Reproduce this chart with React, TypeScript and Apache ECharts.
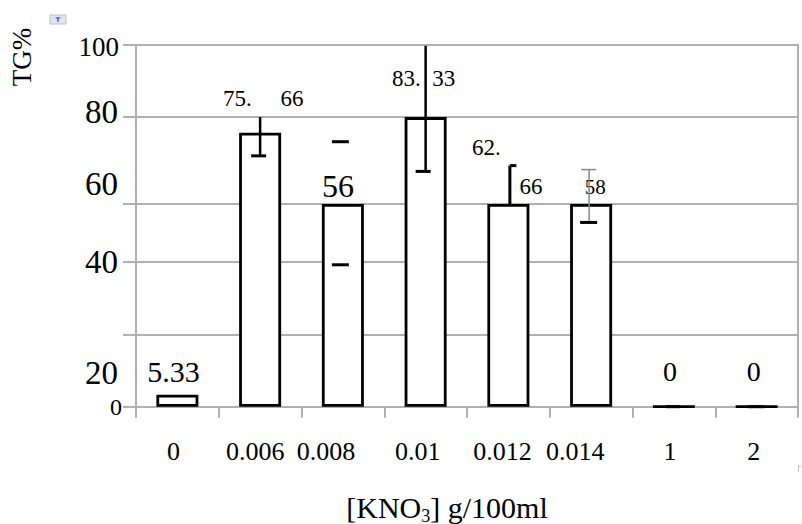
import React, { useEffect, useRef } from "react";
import * as echarts from "echarts";

// ---- data ----
const categories = ["0", "0.006", "0.008", "0.01", "0.012", "0.014", "1", "2"];
const barValues = [3.3, 75.66, 56, 80, 56, 56, 0, 0];
const barLabels = ["5.33", "75.     66", "56", "83.  33", "{a|62.}\n{b|66}", "58", "0", "0"];
const errLow: (number | null)[] = [null, 69.3, 39.2, 65, 56, 50.9, 0, 0];
const errHigh: (number | null)[] = [null, 80, 73.2, 99.7, 66.6, 65.5, 0, 0];
const yGridValues = [0, 20, 40, 56, 80, 100];
const yLabelValues = [0, 9.3, 40, 61.6, 81.5, 99.4];
const yLabelTexts = ["0", "20", "40", "60", "80", "100"];

// ---- layout / styles ----
const FONT = "Liberation Serif";
const GRAY = "#b0b0b0";
const labelLayout = [
  { dx: -4, dy: -23, size: 30 },
  { dx: 3, dy: -34, size: 23 },
  { dx: -5, dy: -18, size: 32 },
  { dx: -2, dy: -39, size: 23 },
  { dx: 0, dy: -36.5, size: 23 },
  { dx: 4, dy: -17, size: 21 },
  { dx: -4, dy: -34, size: 28 },
  { dx: -3, dy: -34, size: 28 },
];
const xLabelShift = [-4, -5, -17, -8, -6, -16, -4, -3];
type Cap = { l: number; r: number; color: string; width: number };
type ErrStyle = { line: { color: string; width: number; dx: number } | null; top: Cap | null; bottom: Cap | null };
const errStyle: (ErrStyle | null)[] = [
  null,
  { line: { color: "#000", width: 2.5, dx: 0 }, top: null, bottom: { l: -9, r: 6, color: "#000", width: 3 } },
  { line: null, top: { l: -11, r: 6, color: "#000", width: 3 }, bottom: { l: -11, r: 6, color: "#000", width: 3 } },
  { line: { color: "#000", width: 2.5, dx: 0 }, top: null, bottom: { l: -10, r: 5, color: "#000", width: 3 } },
  { line: { color: "#000", width: 3, dx: 1.5 }, top: { l: 0, r: 6.5, color: "#000", width: 3 }, bottom: null },
  { line: { color: "#888", width: 1.5, dx: -2 }, top: { l: -10, r: 5, color: "#888", width: 1.5 }, bottom: { l: -11, r: 6, color: "#000", width: 3 } },
  { line: null, top: null, bottom: { l: -8, r: 6, color: "#000", width: 3 } },
  { line: null, top: null, bottom: { l: -9, r: 8, color: "#000", width: 3 } },
];

export default function App() {
  const ref = useRef<HTMLDivElement>(null);
  useEffect(() => {
    if (!ref.current) return;
    const chart = echarts.init(ref.current, undefined, { renderer: "svg" });

    const xRich: Record<string, any> = {};
    xLabelShift.forEach((s, i) => {
      xRich["c" + i] = { fontSize: 26, fontFamily: FONT, color: "#000", padding: [0, -2 * s, 0, 0] };
    });
    const yRich: Record<string, any> = {
      r0: { fontSize: 24, fontFamily: FONT, color: "#000", padding: [0, 0, 0, 0] },
      r1: { fontSize: 33, fontFamily: FONT, color: "#000", padding: [0, 4, 0, 0] },
      r5: { fontSize: 27, fontFamily: FONT, color: "#000", padding: [0, 3, 0, 0] },
    };

    const barData = barValues.map((v, i) => {
      const L = labelLayout[i];
      return {
        value: v,
        label: {
          show: true,
          position: ["50%", 0],
          align: "center",
          verticalAlign: "middle",
          offset: [L.dx, L.dy],
          fontSize: L.size,
          fontFamily: FONT,
          color: "#000",
          formatter: () => barLabels[i],
          rich:
            i === 4
              ? {
                  a: { fontSize: 23, fontFamily: FONT, color: "#000", lineHeight: 39, padding: [0, 44, 0, 0] },
                  b: { fontSize: 23, fontFamily: FONT, color: "#000", lineHeight: 39, padding: [0, 0, 0, 45] },
                }
              : undefined,
        },
      };
    });

    const errData: number[][] = [];
    errLow.forEach((lo, i) => {
      const hi = errHigh[i];
      if (lo != null && hi != null) errData.push([i, lo, hi]);
    });

    chart.setOption({
      animation: false,
      textStyle: { fontFamily: FONT, color: "#000" },
      grid: { left: 136, right: 4, top: 44.7, bottom: 117.3, containLabel: false, outerBoundsMode: "none" },
      xAxis: {
        type: "category",
        data: categories,
        boundaryGap: true,
        axisLine: { show: true, lineStyle: { color: GRAY, width: 2 } },
        axisTick: { show: true, length: 11, lineStyle: { color: GRAY, width: 2 } },
        axisLabel: {
          interval: 0,
          margin: 32,
          fontFamily: FONT,
          fontSize: 26,
          color: "#000",
          formatter: (v: string, i: number) => `{c${i}|${v}}`,
          rich: xRich,
        },
        splitLine: { show: false },
      },
      yAxis: [
        {
          type: "value",
          min: 0,
          max: 100,
          axisLine: { show: true, lineStyle: { color: GRAY, width: 2 } },
          axisTick: { show: true, length: 13, customValues: yGridValues, lineStyle: { color: GRAY, width: 2 } },
          splitLine: { show: true, lineStyle: { color: GRAY, width: 2 } },
          axisLabel: {
            margin: 14,
            fontFamily: FONT,
            fontSize: 33,
            color: "#000",
            customValues: yLabelValues,
            formatter: (v: number) => {
              let k = 0;
              yLabelValues.forEach((y, j) => {
                if (Math.abs(y - v) < 0.05) k = j;
              });
              const key = k === 0 ? "r0" : k === 5 ? "r5" : "r1";
              return `{${key}|${yLabelTexts[k]}}`;
            },
            rich: yRich,
          },
        },
        {
          type: "value",
          min: 0,
          max: 100,
          position: "right",
          axisLine: { show: true, lineStyle: { color: GRAY, width: 2 } },
          axisTick: { show: false },
          axisLabel: { show: false },
          splitLine: { show: false },
        },
      ],
      series: [
        {
          type: "bar",
          data: barData,
          barWidth: 42,
          itemStyle: { color: "#fff", borderColor: "#000", borderWidth: 2.8 },
          z: 2,
        },
        {
          type: "custom",
          data: errData,
          encode: { x: 0, y: [1, 2] },
          z: 3,
          renderItem: (params: any, api: any) => {
            const idx = api.value(0);
            const st = errStyle[idx];
            if (!st) return null;
            const pLo = api.coord([idx, api.value(1)]);
            const pHi = api.coord([idx, api.value(2)]);
            const cx = pLo[0];
            const children: any[] = [];
            if (st.line) {
              children.push({
                type: "line",
                shape: { x1: cx + st.line.dx, y1: pHi[1], x2: cx + st.line.dx, y2: pLo[1] },
                style: { stroke: st.line.color, lineWidth: st.line.width },
              });
            }
            const lx = cx + (st.line ? st.line.dx : 0);
            if (st.top) {
              const ox = st.top.l === 0 ? lx : cx;
              children.push({
                type: "line",
                shape: { x1: ox + st.top.l, y1: pHi[1], x2: ox + st.top.r, y2: pHi[1] },
                style: { stroke: st.top.color, lineWidth: st.top.width },
              });
            }
            if (st.bottom) {
              children.push({
                type: "line",
                shape: { x1: cx + st.bottom.l, y1: pLo[1], x2: cx + st.bottom.r, y2: pLo[1] },
                style: { stroke: st.bottom.color, lineWidth: st.bottom.width },
              });
            }
            return { type: "group", children };
          },
        },
      ],
      graphic: [
        {
          type: "text",
          x: 22,
          y: 57,
          rotation: Math.PI / 2,
          style: { text: "TG%", fontSize: 27, fontFamily: FONT, fill: "#000", align: "center", verticalAlign: "middle" },
        },
        {
          type: "text",
          x: 447,
          y: 507,
          style: {
            text: "[KNO{s|3}] g/100ml",
            fontSize: 30,
            fontFamily: FONT,
            fill: "#000",
            align: "center",
            verticalAlign: "middle",
            rich: { s: { fontSize: 18, fontFamily: FONT, fill: "#000", padding: [17, 0, 0, 0] } },
          },
        },
        {
          type: "rect",
          shape: { x: 50, y: 15, width: 16, height: 9 },
          style: { fill: "#e2e6ec", stroke: "#b9c1cc", lineWidth: 1 },
        },
        {
          type: "line",
          shape: { x1: 58, y1: 17, x2: 58, y2: 22 },
          style: { stroke: "#3b6fd6", lineWidth: 1.5 },
        },
        {
          type: "line",
          shape: { x1: 55.5, y1: 18, x2: 60.5, y2: 18 },
          style: { stroke: "#3b6fd6", lineWidth: 1.2 },
        },
        {
          type: "polyline",
          shape: { points: [[801, 466], [798.5, 466], [798.5, 472]] },
          style: { stroke: "#c0c0c0", lineWidth: 1, fill: "none" },
        },
      ],
    });
    return () => chart.dispose();
  }, []);
  return <div ref={ref} style={{ position: "absolute", left: 0, top: 0, width: 802, height: 524 }} />;
}
